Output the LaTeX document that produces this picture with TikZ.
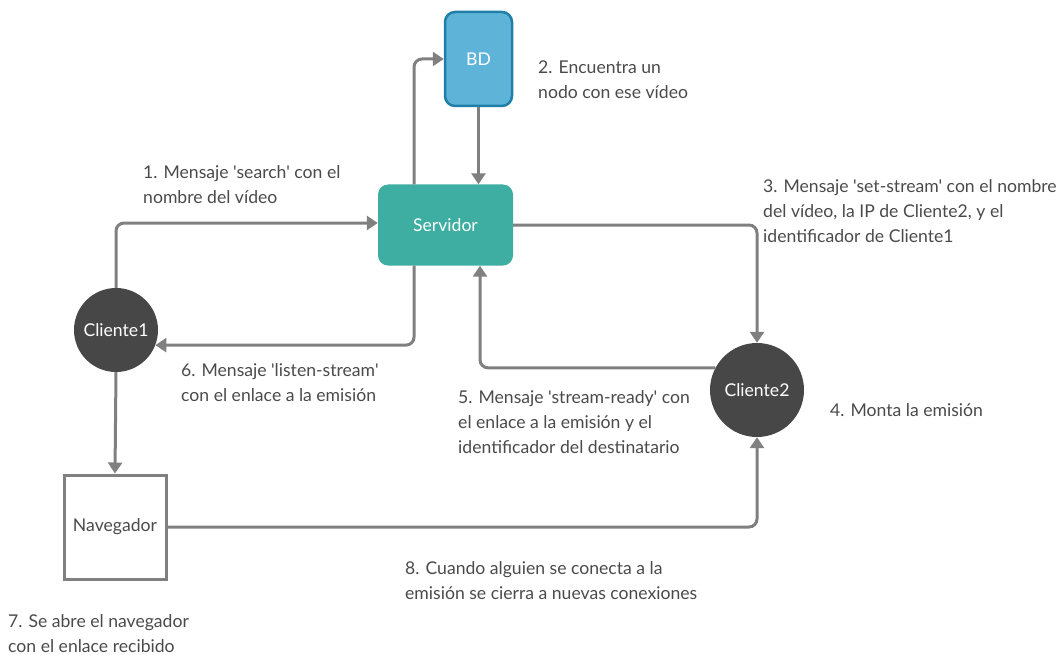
\documentclass[tikz,border=0pt]{standalone}
\usepackage{fontspec}
\setmainfont{Lato}[Ligatures=TeXOff]
\usepackage{tikz}
\usetikzlibrary{positioning,arrows.meta}

\definecolor{flowgray}{HTML}{808080}
\definecolor{labelgray}{HTML}{4A4A4A}
\definecolor{dbfill}{HTML}{5EB3D9}
\definecolor{dbline}{HTML}{1F7FA8}
\definecolor{srvfill}{HTML}{3DAEA1}
\definecolor{clientfill}{HTML}{474747}

\begin{document}
\begin{tikzpicture}[x=1pt,y=-1pt,
  font=\fontsize{17.6}{25}\selectfont,
  flow/.style={draw=flowgray,line width=3pt,rounded corners=8pt,
    -{Triangle[length=11pt,width=14pt]}},
  note/.style={anchor=north west,align=left,inner sep=0pt,text=labelgray},
  dbbox/.style={draw=dbline,fill=dbfill,line width=2.5pt,rounded corners=10pt,
    minimum width=67pt,minimum height=94pt,text=white},
  srvbox/.style={fill=srvfill,rounded corners=10pt,minimum width=135pt,
    minimum height=81pt,text=white},
  client/.style={circle,fill=clientfill,text=white,inner sep=0pt},
  navbox/.style={draw=flowgray,line width=3pt,fill=white,minimum width=102pt,
    minimum height=104pt,text=labelgray}]
\useasboundingbox (0,0) rectangle (1059,655);

\node[dbbox] (bd) at (478.5,59) {BD};
\node[srvbox] (srv) at (445.5,225) {Servidor};
\node[client,minimum size=84pt] (c1) at (116,330) {Cliente1};
\node[client,minimum size=94pt] (c2) at (757,390) {Cliente2};
\node[navbox] (nav) at (115,527) {Navegador};

\draw[flow] (c1.north) |- ([yshift=2pt]srv.west);
\draw[flow] ([xshift=-31.5pt]srv.north) |- (bd.west);
\draw[flow] (bd.south) -- (bd.south |- srv.north);
\draw[flow] (srv.east) -| (c2.north);
\draw[flow] ([xshift=-31.5pt]srv.south) |- (c1.-21);
\draw[flow] (c2.152) -| ([xshift=34.5pt]srv.south);
\draw[flow] (c1.south) -- (nav.north);
\draw[flow] (nav.east) -| (c2.south);

\node[note] (n1) at (143,165) {1. Mensaje 'search' con el\\nombre del vídeo};
\node[note] (n2) at (538,61) {2. Encuentra un\\nodo con ese vídeo};
\node[note] (n3) at (763,179) {3. Mensaje 'set-stream' con el nombre\\del vídeo, la IP de Cliente2, y el\\identificador de Cliente1};
\node[note] (n4) at (830,403) {4. Monta la emisión};
\node[note] (n5) at (458,390) {5. Mensaje 'stream-ready' con\\el enlace a la emisión y el\\identificador del destinatario};
\node[note] (n6) at (181,363) {6. Mensaje 'listen-stream'\\con el enlace a la emisión};
\node[note] (n7) at (8,614) {7. Se abre el navegador\\con el enlace recibido};
\node[note] (n8) at (405,561) {8. Cuando alguien se conecta a la\\emisión se cierra a nuevas conexiones};
\end{tikzpicture}
\end{document}
